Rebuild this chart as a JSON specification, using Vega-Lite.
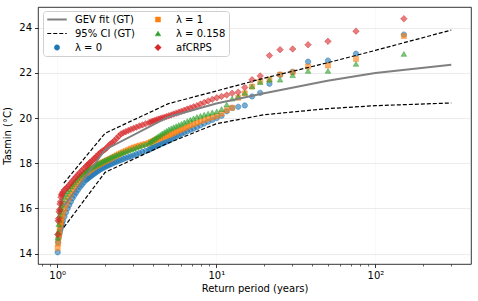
{
  "$schema": "https://vega.github.io/schema/vega-lite/v6.json",
  "width": 433,
  "height": 257,
  "autosize": {"type": "none"},
  "padding": {"left": 38, "top": 7, "right": 7, "bottom": 37},
  "background": "white",
  "config": {
    "font": "DejaVu Sans",
    "view": {"stroke": "black", "strokeWidth": 0.8},
    "axis": {"domain": false, "labelFontSize": 10, "titleFontSize": 10, "titleFontWeight": "normal", "labelColor": "black", "titleColor": "black", "tickColor": "black", "tickWidth": 0.8, "gridColor": "#b0b0b0", "gridOpacity": 0.3, "gridWidth": 0.8}
  },
  "datasets": {
    "pts": [
      {"T": 151, "l0": 23.70, "l1": 23.63, "l158": 22.84, "crps": 24.40},
      {"T": 75.5, "l0": 22.85, "l1": 22.62, "l158": 22.40, "crps": 23.85},
      {"T": 50.33, "l0": 22.55, "l1": 22.33, "l158": 22.09, "crps": 23.40},
      {"T": 37.75, "l0": 22.50, "l1": 22.28, "l158": 22.09, "crps": 23.25},
      {"T": 30.2, "l0": 22.05, "l1": 22.03, "l158": 21.90, "crps": 23.06},
      {"T": 25.17, "l0": 21.92, "l1": 21.93, "l158": 21.70, "crps": 23.03},
      {"T": 21.57, "l0": 21.52, "l1": 21.71, "l158": 21.70, "crps": 22.77},
      {"T": 18.875, "l0": 21.12, "l1": 21.63, "l158": 21.59, "crps": 21.87},
      {"T": 16.78, "l0": 20.96, "l1": 21.40, "l158": 21.40, "crps": 21.70},
      {"T": 15.1, "l0": 20.56, "l1": 21.10, "l158": 21.12, "crps": 21.36},
      {"T": 13.73, "l0": 20.50, "l1": 20.90, "l158": 20.95, "crps": 21.15},
      {"T": 12.58, "l0": 20.45, "l1": 20.46, "l158": 20.86, "crps": 21.10},
      {"T": 11.62, "l0": 20.30, "l1": 20.35, "l158": 20.60, "crps": 21.02},
      {"T": 10.79, "l0": 20.10, "l1": 20.20, "l158": 20.40, "crps": 20.96},
      {"T": 10.07, "l0": 20.00, "l1": 20.10, "l158": 20.30, "crps": 20.90},
      {"T": 9.438, "l0": 19.92, "l1": 20.04, "l158": 20.25, "crps": 20.83},
      {"T": 8.882, "l0": 19.84, "l1": 19.98, "l158": 20.20, "crps": 20.76},
      {"T": 8.389, "l0": 19.76, "l1": 19.92, "l158": 20.15, "crps": 20.69},
      {"T": 7.947, "l0": 19.68, "l1": 19.86, "l158": 20.10, "crps": 20.62},
      {"T": 7.55, "l0": 19.60, "l1": 19.80, "l158": 20.05, "crps": 20.55},
      {"T": 7.19, "l0": 19.54, "l1": 19.74, "l158": 19.99, "crps": 20.50},
      {"T": 6.864, "l0": 19.48, "l1": 19.68, "l158": 19.93, "crps": 20.45},
      {"T": 6.565, "l0": 19.42, "l1": 19.62, "l158": 19.87, "crps": 20.40},
      {"T": 6.292, "l0": 19.36, "l1": 19.56, "l158": 19.81, "crps": 20.35},
      {"T": 6.04, "l0": 19.30, "l1": 19.50, "l158": 19.75, "crps": 20.30},
      {"T": 5.808, "l0": 19.24, "l1": 19.45, "l158": 19.70, "crps": 20.26},
      {"T": 5.593, "l0": 19.18, "l1": 19.40, "l158": 19.65, "crps": 20.22},
      {"T": 5.393, "l0": 19.12, "l1": 19.35, "l158": 19.60, "crps": 20.18},
      {"T": 5.207, "l0": 19.06, "l1": 19.30, "l158": 19.55, "crps": 20.14},
      {"T": 5.033, "l0": 19.00, "l1": 19.25, "l158": 19.50, "crps": 20.10},
      {"T": 4.871, "l0": 18.96, "l1": 19.22, "l158": 19.44, "crps": 20.07},
      {"T": 4.719, "l0": 18.92, "l1": 19.18, "l158": 19.38, "crps": 20.04},
      {"T": 4.576, "l0": 18.88, "l1": 19.15, "l158": 19.32, "crps": 20.01},
      {"T": 4.441, "l0": 18.84, "l1": 19.11, "l158": 19.26, "crps": 19.98},
      {"T": 4.314, "l0": 18.80, "l1": 19.08, "l158": 19.20, "crps": 19.95},
      {"T": 4.194, "l0": 18.76, "l1": 19.04, "l158": 19.14, "crps": 19.92},
      {"T": 4.081, "l0": 18.72, "l1": 19.01, "l158": 19.08, "crps": 19.89},
      {"T": 3.974, "l0": 18.68, "l1": 18.97, "l158": 19.02, "crps": 19.86},
      {"T": 3.872, "l0": 18.64, "l1": 18.94, "l158": 18.96, "crps": 19.83},
      {"T": 3.775, "l0": 18.60, "l1": 18.90, "l158": 18.90, "crps": 19.80},
      {"T": 3.595, "l0": 18.55, "l1": 18.86, "l158": 18.85, "crps": 19.75},
      {"T": 3.432, "l0": 18.50, "l1": 18.82, "l158": 18.80, "crps": 19.70},
      {"T": 3.283, "l0": 18.45, "l1": 18.78, "l158": 18.75, "crps": 19.65},
      {"T": 3.146, "l0": 18.40, "l1": 18.74, "l158": 18.70, "crps": 19.60},
      {"T": 3.02, "l0": 18.35, "l1": 18.70, "l158": 18.65, "crps": 19.55},
      {"T": 2.904, "l0": 18.31, "l1": 18.65, "l158": 18.61, "crps": 19.50},
      {"T": 2.796, "l0": 18.27, "l1": 18.60, "l158": 18.57, "crps": 19.45},
      {"T": 2.696, "l0": 18.23, "l1": 18.55, "l158": 18.53, "crps": 19.40},
      {"T": 2.603, "l0": 18.19, "l1": 18.50, "l158": 18.49, "crps": 19.35},
      {"T": 2.517, "l0": 18.15, "l1": 18.45, "l158": 18.45, "crps": 19.30},
      {"T": 2.435, "l0": 18.11, "l1": 18.40, "l158": 18.41, "crps": 19.20},
      {"T": 2.359, "l0": 18.07, "l1": 18.35, "l158": 18.37, "crps": 19.10},
      {"T": 2.288, "l0": 18.03, "l1": 18.30, "l158": 18.33, "crps": 19.00},
      {"T": 2.221, "l0": 17.99, "l1": 18.25, "l158": 18.29, "crps": 18.92},
      {"T": 2.157, "l0": 17.95, "l1": 18.20, "l158": 18.25, "crps": 18.85},
      {"T": 2.097, "l0": 17.91, "l1": 18.16, "l158": 18.21, "crps": 18.76},
      {"T": 2.041, "l0": 17.87, "l1": 18.12, "l158": 18.17, "crps": 18.68},
      {"T": 1.987, "l0": 17.83, "l1": 18.08, "l158": 18.13, "crps": 18.60},
      {"T": 1.936, "l0": 17.79, "l1": 18.04, "l158": 18.09, "crps": 18.55},
      {"T": 1.8875, "l0": 17.75, "l1": 18.00, "l158": 18.05, "crps": 18.50},
      {"T": 1.841, "l0": 17.70, "l1": 17.96, "l158": 18.01, "crps": 18.43},
      {"T": 1.798, "l0": 17.65, "l1": 17.92, "l158": 17.97, "crps": 18.36},
      {"T": 1.756, "l0": 17.60, "l1": 17.88, "l158": 17.93, "crps": 18.29},
      {"T": 1.716, "l0": 17.55, "l1": 17.84, "l158": 17.89, "crps": 18.22},
      {"T": 1.678, "l0": 17.50, "l1": 17.80, "l158": 17.85, "crps": 18.15},
      {"T": 1.641, "l0": 17.45, "l1": 17.75, "l158": 17.81, "crps": 18.09},
      {"T": 1.606, "l0": 17.40, "l1": 17.70, "l158": 17.77, "crps": 18.03},
      {"T": 1.573, "l0": 17.35, "l1": 17.65, "l158": 17.73, "crps": 17.97},
      {"T": 1.541, "l0": 17.30, "l1": 17.60, "l158": 17.69, "crps": 17.91},
      {"T": 1.51, "l0": 17.25, "l1": 17.55, "l158": 17.65, "crps": 17.85},
      {"T": 1.466, "l0": 17.15, "l1": 17.46, "l158": 17.58, "crps": 17.76},
      {"T": 1.425, "l0": 17.04, "l1": 17.37, "l158": 17.50, "crps": 17.67},
      {"T": 1.385, "l0": 16.94, "l1": 17.28, "l158": 17.43, "crps": 17.58},
      {"T": 1.348, "l0": 16.82, "l1": 17.17, "l158": 17.34, "crps": 17.49},
      {"T": 1.313, "l0": 16.70, "l1": 17.05, "l158": 17.25, "crps": 17.40},
      {"T": 1.28, "l0": 16.58, "l1": 16.93, "l158": 17.16, "crps": 17.31},
      {"T": 1.248, "l0": 16.45, "l1": 16.80, "l158": 17.07, "crps": 17.22},
      {"T": 1.218, "l0": 16.30, "l1": 16.65, "l158": 16.97, "crps": 17.13},
      {"T": 1.189, "l0": 16.15, "l1": 16.50, "l158": 16.86, "crps": 17.04},
      {"T": 1.162, "l0": 16.00, "l1": 16.35, "l158": 16.75, "crps": 16.95},
      {"T": 1.135, "l0": 15.82, "l1": 16.17, "l158": 16.63, "crps": 16.89},
      {"T": 1.110, "l0": 15.64, "l1": 15.99, "l158": 16.51, "crps": 16.82},
      {"T": 1.086, "l0": 15.46, "l1": 15.81, "l158": 16.38, "crps": 16.73},
      {"T": 1.071, "l0": 15.34, "l1": 15.65, "l158": 16.25, "crps": 16.65},
      {"T": 1.063, "l0": 15.26, "l1": 15.52, "l158": 16.15, "crps": 16.60},
      {"T": 1.056, "l0": 15.18, "l1": 15.40, "l158": 16.05, "crps": 16.50},
      {"T": 1.049, "l0": 15.09, "l1": 15.30, "l158": 15.95, "crps": 16.30},
      {"T": 1.041, "l0": 15.00, "l1": 15.20, "l158": 15.85, "crps": 16.20},
      {"T": 1.034, "l0": 14.90, "l1": 15.00, "l158": 15.70, "crps": 15.95},
      {"T": 1.027, "l0": 14.80, "l1": 14.85, "l158": 15.50, "crps": 15.85},
      {"T": 1.020, "l0": 14.70, "l1": 14.70, "l158": 15.30, "crps": 15.55},
      {"T": 1.013, "l0": 14.50, "l1": 14.45, "l158": 14.95, "crps": 15.45},
      {"T": 1.0067, "l0": 14.06, "l1": 14.25, "l158": 14.70, "crps": 14.85}
    ],
    "lines": [
      {"s": "gev", "b": "fit", "T": 1.1, "v": 16.1},
      {"s": "gev", "b": "fit", "T": 2, "v": 18.6},
      {"s": "gev", "b": "fit", "T": 5, "v": 20.05},
      {"s": "gev", "b": "fit", "T": 10, "v": 20.65},
      {"s": "gev", "b": "fit", "T": 20, "v": 21.1},
      {"s": "gev", "b": "fit", "T": 50, "v": 21.65},
      {"s": "gev", "b": "fit", "T": 100, "v": 22.0},
      {"s": "gev", "b": "fit", "T": 300, "v": 22.36},
      {"s": "ci", "b": "hi", "T": 1.1, "v": 17.12},
      {"s": "ci", "b": "hi", "T": 2, "v": 19.33},
      {"s": "ci", "b": "hi", "T": 5, "v": 20.64},
      {"s": "ci", "b": "hi", "T": 10, "v": 21.2},
      {"s": "ci", "b": "hi", "T": 20, "v": 21.77},
      {"s": "ci", "b": "hi", "T": 50, "v": 22.45},
      {"s": "ci", "b": "hi", "T": 100, "v": 23.0},
      {"s": "ci", "b": "hi", "T": 300, "v": 23.9},
      {"s": "ci", "b": "lo", "T": 1.1, "v": 15.16},
      {"s": "ci", "b": "lo", "T": 2, "v": 17.6},
      {"s": "ci", "b": "lo", "T": 5, "v": 18.9},
      {"s": "ci", "b": "lo", "T": 10, "v": 19.75},
      {"s": "ci", "b": "lo", "T": 20, "v": 20.15},
      {"s": "ci", "b": "lo", "T": 50, "v": 20.42},
      {"s": "ci", "b": "lo", "T": 100, "v": 20.55},
      {"s": "ci", "b": "lo", "T": 300, "v": 20.67}
    ]
  },
  "layer": [
    {
      "data": {"name": "pts"},
      "encoding": {
        "x": {"field": "T", "type": "quantitative", "scale": {"type": "log", "domain": [0.757, 399], "nice": false},
          "axis": {"title": "Return period (years)", "values": [0.8, 0.9, 1, 2, 3, 4, 5, 6, 7, 8, 9, 10, 20, 30, 40, 50, 60, 70, 80, 90, 100, 200, 300],
            "labelExpr": "datum.value == 1 ? '10⁰' : datum.value == 10 ? '10¹' : datum.value == 100 ? '10²' : ''",
            "tickSize": {"condition": {"test": "datum.value == 1 || datum.value == 10 || datum.value == 100", "value": 3.5}, "value": 2},
            "tickWidth": {"condition": {"test": "datum.value == 1 || datum.value == 10 || datum.value == 100", "value": 0.8}, "value": 0.6},
            "gridOpacity": {"condition": {"test": "datum.value == 1 || datum.value == 10 || datum.value == 100", "value": 0.3}, "value": 0},
            "labelPadding": 3, "titlePadding": 3, "labelFlush": false}},
        "y": {"field": "v", "type": "quantitative", "scale": {"domain": [13.54, 24.92], "nice": false, "zero": false},
          "axis": {"title": "Tasmin (°C)", "values": [14, 16, 18, 20, 22, 24], "tickSize": 3.5, "labelPadding": 3, "titlePadding": 6}},
        "fill": {"field": "s", "type": "nominal",
          "scale": {"domain": ["gev", "ci", "l0", "l1", "l158", "crps"], "range": ["#808080", "#000000", "#1f77b4", "#ff7f0e", "#2ca02c", "#d62728"]},
          "legend": {"orient": "none", "legendX": 5, "legendY": 4, "columns": 2, "title": null, "columnPadding": 12, "rowPadding": 3, "padding": 3, "clipHeight": 11,
            "labelFont": "DejaVu Sans", "labelFontSize": 10, "labelColor": "black", "labelOffset": 7,
            "strokeColor": "#d0d0d0", "fillColor": "rgba(255,255,255,0.8)", "cornerRadius": 3,
            "labelExpr": "datum.label == 'gev' ? 'GEV fit (GT)' : datum.label == 'ci' ? '95% CI (GT)' : datum.label == 'l0' ? 'λ = 0' : datum.label == 'l1' ? 'λ = 1' : datum.label == 'l158' ? 'λ = 0.158' : 'afCRPS'"}},
        "stroke": {"field": "s", "type": "nominal",
          "scale": {"domain": ["gev", "ci", "l0", "l1", "l158", "crps"], "range": ["#808080", "#000000", "#1f77b4", "#ff7f0e", "#2ca02c", "#d62728"]}},
        "shape": {"field": "s", "type": "nominal",
          "scale": {"domain": ["gev", "ci", "l0", "l1", "l158", "crps"], "range": ["stroke", "stroke", "circle", "square", "triangle-up", "diamond"]}},
        "strokeDash": {"field": "s", "type": "nominal",
          "scale": {"domain": ["gev", "ci", "l0", "l1", "l158", "crps"], "range": [[1, 0], [4, 2], [1, 0], [1, 0], [1, 0], [1, 0]]}},
        "strokeWidth": {"field": "s", "type": "nominal",
          "scale": {"type": "ordinal", "domain": ["gev", "ci", "l0", "l1", "l158", "crps"], "range": [2, 1.2, 0.5, 0.5, 0.5, 0.5]}},
        "size": {"field": "s", "type": "nominal",
          "scale": {"type": "ordinal", "domain": ["gev", "ci", "l0", "l1", "l158", "crps"], "range": [380, 380, 28, 25, 30, 42]}}
      },
      "layer": [
        {"transform": [{"fold": ["l0"], "as": ["s", "v"]}], "mark": {"type": "point", "filled": true, "fillOpacity": 0.6}},
        {"transform": [{"fold": ["l1"], "as": ["s", "v"]}], "mark": {"type": "point", "filled": true, "fillOpacity": 0.6}},
        {"transform": [{"fold": ["l158"], "as": ["s", "v"]}], "mark": {"type": "point", "filled": true, "fillOpacity": 0.6}},
        {"transform": [{"fold": ["crps"], "as": ["s", "v"]}], "mark": {"type": "point", "filled": true, "fillOpacity": 0.6}}
      ]
    },
    {
      "data": {"name": "lines"},
      "transform": [{"filter": "datum.s == 'gev'"}],
      "mark": {"type": "line", "stroke": "#808080", "strokeWidth": 2},
      "encoding": {
        "x": {"field": "T", "type": "quantitative"},
        "y": {"field": "v", "type": "quantitative"}
      }
    },
    {
      "data": {"name": "lines"},
      "transform": [{"filter": "datum.s == 'ci'"}],
      "mark": {"type": "line", "stroke": "#000000", "strokeWidth": 1.2, "strokeDash": [4, 2]},
      "encoding": {
        "x": {"field": "T", "type": "quantitative"},
        "y": {"field": "v", "type": "quantitative"},
        "detail": {"field": "b"}
      }
    }
  ]
}
